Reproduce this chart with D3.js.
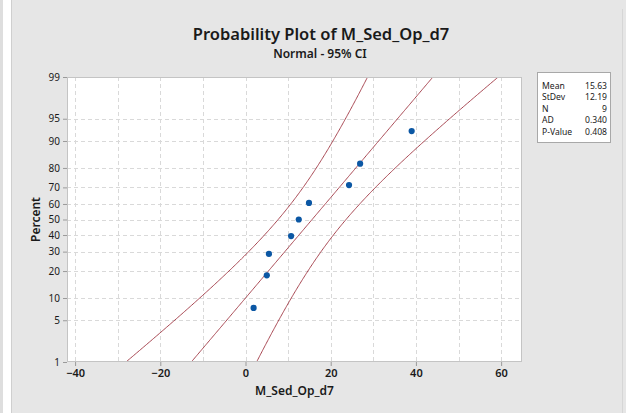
<!DOCTYPE html>
<html>
<head>
<meta charset="utf-8">
<script src="https://cdn.jsdelivr.net/npm/d3@7"></script>
<style>
  html, body { margin: 0; padding: 0; background: #e6e6e6; }
  svg { display: block; }
  text { font-family: "Noto Sans", "Open Sans", sans-serif; fill: #1a1a1a; }
</style>
</head>
<body>
<svg id="chart" width="626" height="413"></svg>
<script>
// Observed values of M_Sed_Op_d7 (sorted)
const sampleValues = [1.9, 5.0, 5.5, 10.7, 12.5, 14.9, 24.3, 26.9, 39.0];
// Summary statistics shown in the table
const statLabels = ["Mean", "StDev", "N", "AD", "P-Value"];
const statValues = ["15.63", "12.19", "9", "0.340", "0.408"];
const meanValue = 15.63;
const sdValue = 12.19;
// Axis ticks
const xTicks = [-40, -20, 0, 20, 40, 60];
const xGrid = [-40, -30, -20, -10, 0, 10, 20, 30, 40, 50, 60];
const yTicks = [1, 5, 10, 20, 30, 40, 50, 60, 70, 80, 90, 95, 99];

const svg = d3.select("#chart");
const W = 626, H = 413;
const plot = { left: 67, right: 522, top: 77, bottom: 362 };

// frame decorations
svg.append("rect").attr("x", 0).attr("y", 0).attr("width", W).attr("height", H).attr("fill", "#e6e6e6");
svg.append("rect").attr("x", 0).attr("y", 0).attr("width", 3).attr("height", H).attr("fill", "#dedede");
svg.append("rect").attr("x", 3).attr("y", 0).attr("width", 8).attr("height", H).attr("fill", "#ffffff");
svg.append("rect").attr("x", 11).attr("y", 0).attr("width", 1).attr("height", H).attr("fill", "#cfcfcf");
svg.append("rect").attr("x", 622).attr("y", 9).attr("width", 1).attr("height", H - 9).attr("fill", "#d6d6d6");

// inverse standard normal CDF (Acklam's rational approximation)
function normInv(p) {
  const a = [-3.969683028665376e+01, 2.209460984245205e+02, -2.759285104469687e+02, 1.383577518672690e+02, -3.066479806614716e+01, 2.506628277459239e+00];
  const b = [-5.447609879822406e+01, 1.615858368580409e+02, -1.556989798598866e+02, 6.680131188771972e+01, -1.328068155288572e+01];
  const c = [-7.784894002430293e-03, -3.223964580411365e-01, -2.400758277161838e+00, -2.549732539343734e+00, 4.374664141464968e+00, 2.938163982698783e+00];
  const d = [7.784695709041462e-03, 3.224671290700398e-01, 2.445134137142996e+00, 3.754408661907416e+00];
  const pl = 0.02425, ph = 1 - pl;
  let q, r;
  if (p < pl) {
    q = Math.sqrt(-2 * Math.log(p));
    return (((((c[0]*q+c[1])*q+c[2])*q+c[3])*q+c[4])*q+c[5]) / ((((d[0]*q+d[1])*q+d[2])*q+d[3])*q+1);
  } else if (p <= ph) {
    q = p - 0.5; r = q * q;
    return (((((a[0]*r+a[1])*r+a[2])*r+a[3])*r+a[4])*r+a[5])*q / (((((b[0]*r+b[1])*r+b[2])*r+b[3])*r+b[4])*r+1);
  } else {
    q = Math.sqrt(-2 * Math.log(1 - p));
    return -(((((c[0]*q+c[1])*q+c[2])*q+c[3])*q+c[4])*q+c[5]) / ((((d[0]*q+d[1])*q+d[2])*q+d[3])*q+1);
  }
}

const x = d3.scaleLinear().domain([-41.9, 64.9]).range([plot.left, plot.right]);
// probability axis: linear in the normal quantile
const zScale = d3.scaleLinear().domain([normInv(0.01), normInv(0.99)]).range([plot.bottom, plot.top]);
const yPct = p => zScale(normInv(p / 100));

// plot background
svg.append("rect")
  .attr("x", plot.left).attr("y", plot.top)
  .attr("width", plot.right - plot.left).attr("height", plot.bottom - plot.top)
  .attr("fill", "#ffffff");

// grid
const grid = svg.append("g").attr("stroke", "#d9d9d9").attr("stroke-width", 1).attr("stroke-dasharray", "4,3");
grid.selectAll("line.v").data(xGrid).join("line")
  .attr("x1", d => Math.round(x(d)) + 0.5).attr("x2", d => Math.round(x(d)) + 0.5)
  .attr("y1", plot.top).attr("y2", plot.bottom);
grid.selectAll("line.h").data(yTicks.filter(t => t > 1 && t < 99)).join("line")
  .attr("y1", d => Math.round(yPct(d)) + 0.5).attr("y2", d => Math.round(yPct(d)) + 0.5)
  .attr("x1", plot.left).attr("x2", plot.right);

// fitted line and 95% confidence bands
const n = sampleValues.length;
const zc = 1.959964;
const zs = d3.range(-3.5, 3.5001, 0.02);
const fitted = zs.map(z => [meanValue + sdValue * z, z]);
const halfW = z => zc * sdValue * Math.sqrt(1 / n + z * z / (2 * n));
const lower = zs.map(z => [meanValue + sdValue * z - halfW(z), z]);
const upper = zs.map(z => [meanValue + sdValue * z + halfW(z), z]);

svg.append("clipPath").attr("id", "plotClip").append("rect")
  .attr("x", plot.left).attr("y", plot.top)
  .attr("width", plot.right - plot.left).attr("height", plot.bottom - plot.top);

const line = d3.line().x(d => x(d[0])).y(d => zScale(d[1]));
const curves = svg.append("g").attr("clip-path", "url(#plotClip)");
[fitted, lower, upper].forEach(pts => {
  curves.append("path").attr("d", line(pts))
    .attr("fill", "none").attr("stroke", "#9e3340").attr("stroke-width", 0.9);
});

// data points at median-rank plotting positions
svg.append("g").selectAll("circle").data(sampleValues).join("circle")
  .attr("cx", d => x(d))
  .attr("cy", (d, i) => yPct(100 * (i + 1 - 0.3) / (n + 0.4)))
  .attr("r", 3.1)
  .attr("fill", "#0b57a4");

// plot border
svg.append("rect")
  .attr("x", plot.left + 0.5).attr("y", plot.top + 0.5)
  .attr("width", plot.right - plot.left - 1).attr("height", plot.bottom - plot.top - 1)
  .attr("fill", "none").attr("stroke", "#c4c4c4");

// axes
const xAxis = d3.axisBottom(x).tickValues(xTicks).tickSize(4).tickPadding(3);
const gx = svg.append("g").attr("transform", `translate(0,${plot.bottom})`).call(xAxis);
gx.select(".domain").remove();
gx.selectAll("line").attr("stroke", "#9a9a9a");
gx.selectAll("text").attr("font-size", 11).attr("font-weight", 600).attr("fill", "#1a1a1a")
  .style("font-family", '"Noto Sans", sans-serif');

const yAxis = d3.axisLeft(zScale).tickValues(yTicks.map(t => normInv(t / 100)))
  .tickFormat((d, i) => yTicks[i]).tickSize(4).tickPadding(3);
const gy = svg.append("g").attr("transform", `translate(${plot.left},0)`).call(yAxis);
gy.select(".domain").remove();
gy.selectAll("line").attr("stroke", "#9a9a9a");
gy.selectAll("text").attr("font-size", 10).attr("fill", "#1a1a1a")
  .style("font-family", '"Noto Sans", sans-serif');

// titles
svg.append("text").attr("x", 321).attr("y", 40).attr("text-anchor", "middle")
  .attr("font-size", 16.5).attr("font-weight", 600).text("Probability Plot of M_Sed_Op_d7");
svg.append("text").attr("x", 320).attr("y", 57.5).attr("text-anchor", "middle")
  .attr("font-size", 12).attr("font-weight", 600).text("Normal - 95% CI");
svg.append("text").attr("x", (plot.left + plot.right) / 2).attr("y", 395).attr("text-anchor", "middle")
  .attr("font-size", 12).attr("font-weight", 600).text("M_Sed_Op_d7");
svg.append("text").attr("transform", `translate(40,${zScale(0)}) rotate(-90)`).attr("text-anchor", "middle")
  .attr("font-size", 12).attr("font-weight", 600).text("Percent");

// statistics table
const box = { x: 537, y: 72, w: 73, h: 70 };
svg.append("rect").attr("x", box.x + 0.5).attr("y", box.y + 0.5).attr("width", box.w).attr("height", box.h)
  .attr("fill", "#ffffff").attr("stroke", "#a8a8a8");
const rows = svg.append("g").attr("font-size", 8.6)
  .style("font-family", '"Liberation Sans", Arial, sans-serif');
statLabels.forEach((lab, i) => {
  const yy = box.y + 17 + i * 11.4;
  rows.append("text").attr("x", box.x + 5).attr("y", yy).text(lab);
  rows.append("text").attr("x", box.x + box.w - 3).attr("y", yy).attr("text-anchor", "end").text(statValues[i]);
});
</script>
</body>
</html>
